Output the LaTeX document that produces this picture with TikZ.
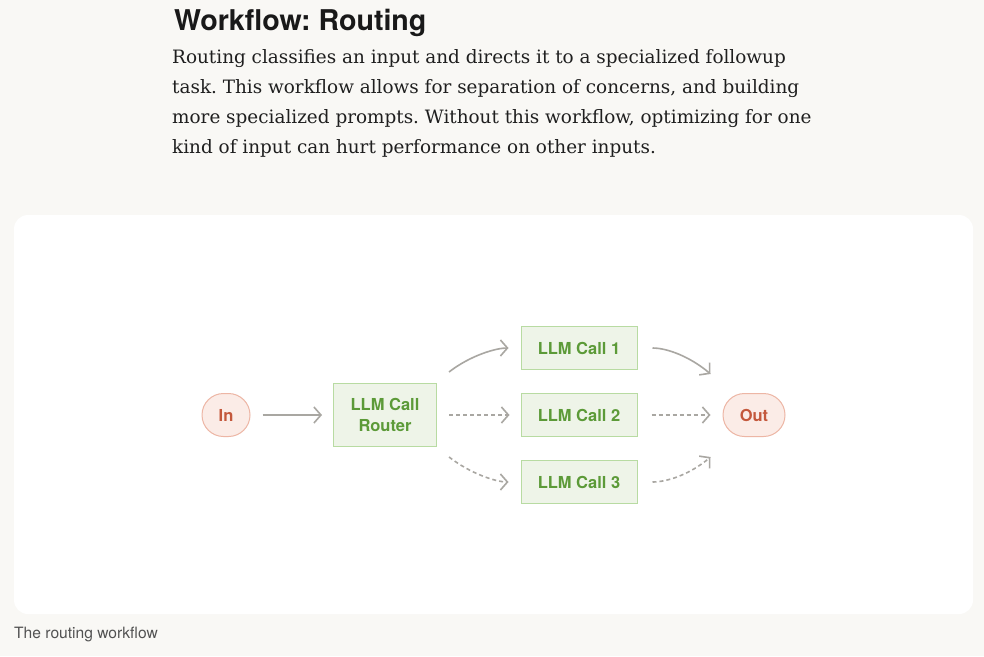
\documentclass[tikz,border=0pt]{standalone}
\usepackage{fontspec}
\setmainfont{DejaVu Serif}
\setsansfont{TeX Gyre Heros}
\usetikzlibrary{calc}
\usetikzlibrary{arrows.meta}
\usetikzlibrary{positioning}
\definecolor{paper}{HTML}{F9F8F5}
\definecolor{boxfill}{HTML}{EEF4E8}
\definecolor{boxline}{HTML}{B8DBA2}
\definecolor{boxtext}{HTML}{5C9A38}
\definecolor{pillfill}{HTML}{FBECE7}
\definecolor{pillline}{HTML}{EDB6A5}
\definecolor{pilltext}{HTML}{C4583C}
\definecolor{flowgray}{HTML}{A9A7A2}
\frenchspacing

\begin{document}
\begin{tikzpicture}[x=1pt, y=1pt,
  box/.style={draw=boxline, fill=boxfill, text=boxtext, line width=1pt,
    font=\sffamily\bfseries\fontsize{16.5}{21}\selectfont, align=center,
    minimum width=116pt, minimum height=43pt},
  pill/.style={draw=pillline, fill=pillfill, text=pilltext, line width=1pt,
    rounded corners=21.5pt, font=\sffamily\bfseries\fontsize{16.5}{18}\selectfont,
    minimum height=43pt},
  flow/.style={draw=flowgray, line width=1.6pt, -{Straight Barb[length=7pt,width=16pt]}},
  dots/.style={flow, dash pattern=on 4pt off 3pt}]
\useasboundingbox[fill=paper] (0,0) rectangle (984,-656);

% text above the card
\node[anchor=base west, inner sep=0, font=\sffamily\bfseries\fontsize{28.6}{32}\selectfont, text=black!90] (title) at (174,-30) {Workflow: Routing};
\foreach \line [count=\i] in {
  {Routing classifies an input and directs it to a specialized followup},
  {task. This workflow allows for separation of concerns, and building},
  {more specialized prompts. Without this workflow, optimizing for one},
  {kind of input can hurt performance on other inputs.}} {
 \node[anchor=base west, inner sep=0, font=\fontsize{18.4}{30}\selectfont, text=black!88] (body\i) at (172,-63-30.3*\i+30.3) {\line};
}

% card
\fill[white, rounded corners=14pt] (14,-215) rectangle (973,-614);
\node[anchor=base west, inner sep=0, font=\sffamily\fontsize{15.6}{18}\selectfont, text=black!68] (caption) at (14,-638) {The routing workflow};

% nodes
\node[pill, minimum width=48pt] (in) at (226,-415) {In};
\node[box, minimum width=103pt, minimum height=63pt] (router) at (385,-415) {LLM Call\\Router};
\foreach \i/\y in {1/-348, 2/-415, 3/-482} {
 \node[box] (call\i) at (579,\y) {LLM Call \i};
}
\node[pill, minimum width=62pt] (out) at (754,-415) {Out};

% connectors
\draw[flow, shorten <=12pt, shorten >=11pt] (in) -- (router);
\draw[flow, shorten >=12pt] ($(router.north east)+(12,11)$) .. controls +(22,17) and +(-24,0) .. (call1.west);
\draw[dots, shorten <=12pt, shorten >=11pt] (router) -- (call2);
\draw[dots, shorten >=12pt] ($(router.south east)+(12,-10)$) .. controls +(22,-17) and +(-24,0) .. (call3.west);
\draw[flow, shorten <=15pt] (call1.east) .. controls +(30,0) and +(-20,17) .. ($(out.north west)+(-12,19)$);
\draw[dots, shorten <=14pt, shorten >=12pt] (call2) -- (out);
\draw[dots, shorten <=15pt] (call3.east) .. controls +(30,0) and +(-20,-17) .. ($(out.south west)+(-12,-20)$);
\end{tikzpicture}
\end{document}
